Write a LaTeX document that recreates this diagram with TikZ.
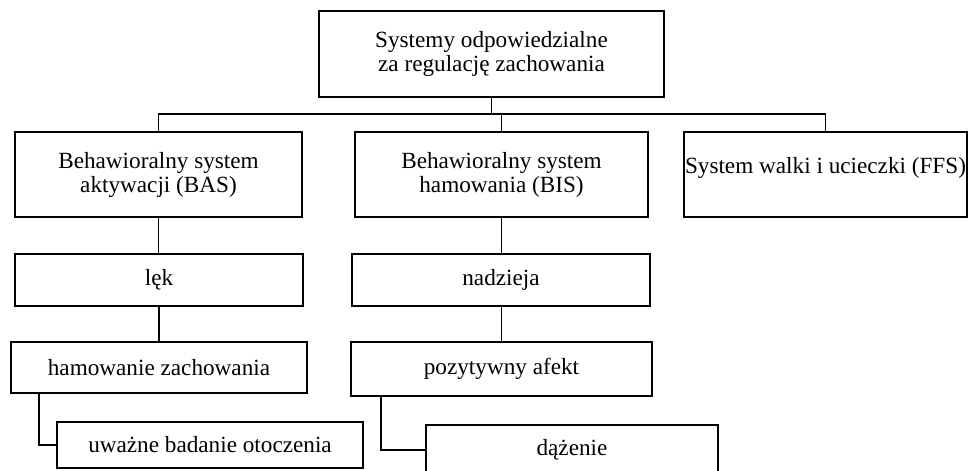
\documentclass[tikz,border=0pt]{standalone}
\usepackage{fontspec}
\setmainfont{Liberation Serif}

\begin{document}
\begin{tikzpicture}[x=0.025cm, y=-0.025cm,
	box/.style={draw, line width=1.3pt, align=center, inner sep=0pt,
		font=\fontsize{16.5pt}{17pt}\selectfont},
	link/.style={line width=1.3pt}]

% 1px = 0.025cm, y grows downwards
\def\u{0.025cm}
\def\busy{114}

\useasboundingbox (0,0) rectangle (969,470);

% top
\node [box, minimum width=345*\u, minimum height=86*\u] (sys) at (491.5,54) {Systemy odpowiedzialne\\za regulację zachowania};

% systems
\node [box, minimum width=287*\u, minimum height=85*\u] (bas) at (158.5,174.5) {Behawioralny system\\aktywacji (BAS)};
\node [box, minimum width=293*\u, minimum height=85*\u] (bis) at (501.5,174.5) {Behawioralny system\\hamowania (BIS)};
\node [box, minimum width=283*\u, minimum height=85*\u, text height=0.4cm, text depth=0.45cm] (ffs) at (825.5,174.5) {System walki i ucieczki (FFS)};

% BAS branch
\node [box, minimum width=288*\u, minimum height=52*\u] (lek) at (159,280) {lęk};
\node [box, minimum width=296*\u, minimum height=51*\u] (ham) at (159,367.5) {hamowanie zachowania};
\node [box, minimum width=306*\u, minimum height=46*\u] (uwa) at (210,445) {uważne badanie otoczenia};

% BIS branch
\node [box, minimum width=298*\u, minimum height=52*\u] (nad) at (501,280) {nadzieja};
\node [box, minimum width=301*\u, minimum height=54*\u] (poz) at (501.5,369) {pozytywny afekt};
\node [box, minimum width=292*\u, minimum height=50*\u] (daz) at (572,450) {dążenie};

% bus
\coordinate (bus) at (0,\busy);
\draw [link] (sys.south) -- (sys.south |- bus);
\draw [link] (bas.north) |- (bus -| ffs.north) -- (ffs.north);
\draw [link] (bis.north) -- (bis.north |- bus);

% lines down
\draw [link] (bas.south) -- (bas.south |- lek.north);
\draw [link] (lek.south) -- (lek.south |- ham.north);
\draw [link] ([xshift=29*\u]ham.south west) |- (uwa.west);

\draw [link] (bis.south) -- (bis.south |- nad.north);
\draw [link] (nad.south -| bis.south) -- (bis.south |- poz.north);
\draw [link] ([xshift=31*\u]poz.south west) |- (daz.west);

\end{tikzpicture}
\end{document}
